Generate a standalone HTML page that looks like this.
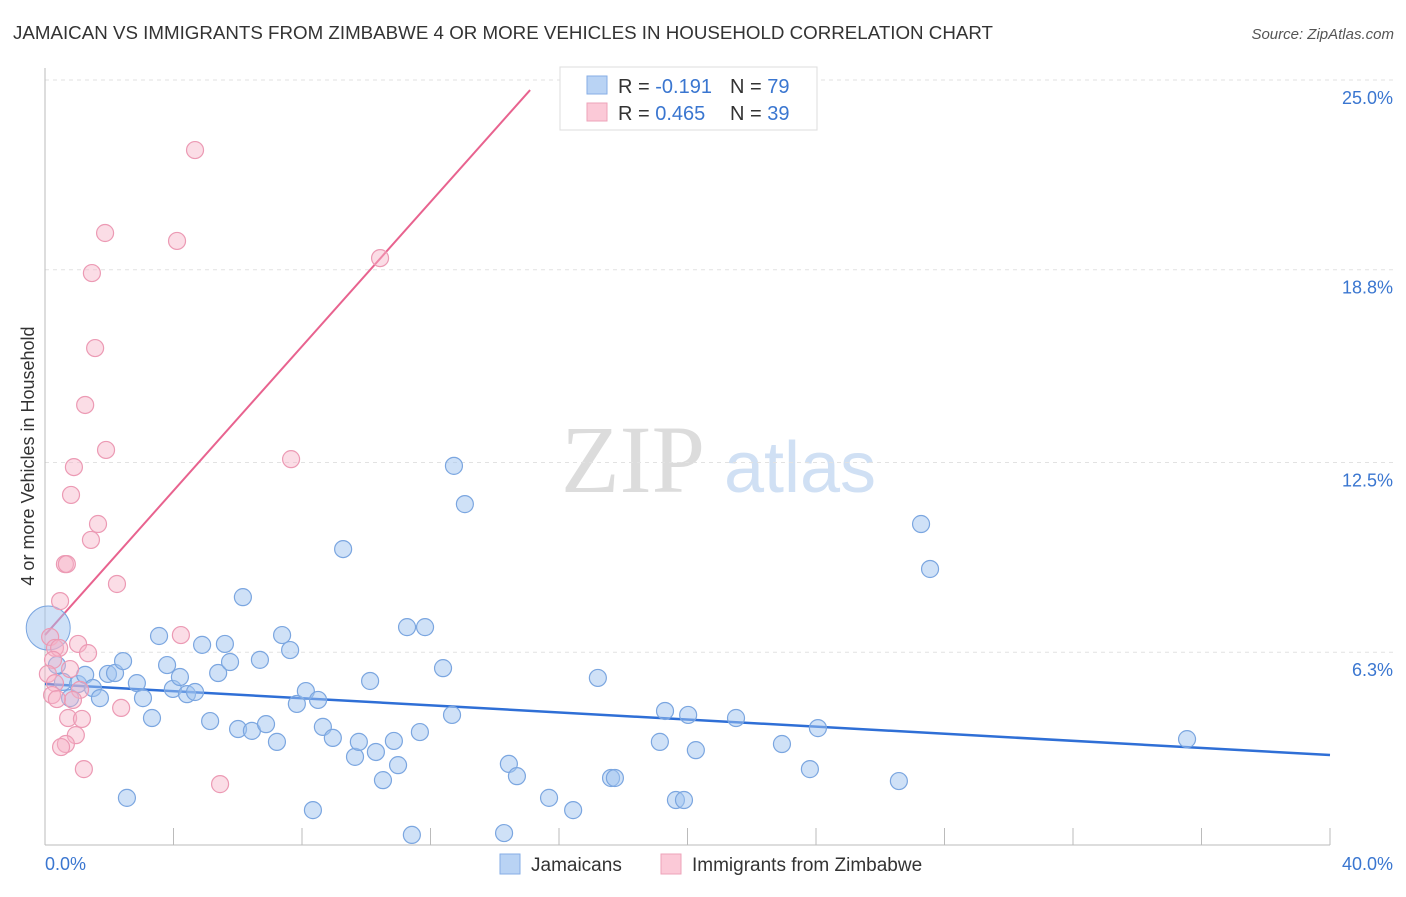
<!DOCTYPE html>
<html><head><meta charset="utf-8"><style>
body{margin:0;background:#fff;font-family:"Liberation Sans",sans-serif;}
svg text{font-family:"Liberation Sans",sans-serif;}
</style></head><body>
<svg id="chart" width="1406" height="892" xmlns="http://www.w3.org/2000/svg">
<text x="13" y="39" font-size="18.5" fill="#333" textLength="980" lengthAdjust="spacingAndGlyphs">JAMAICAN VS IMMIGRANTS FROM ZIMBABWE 4 OR MORE VEHICLES IN HOUSEHOLD CORRELATION CHART</text>
<text x="1394" y="39" font-size="15" fill="#555" font-style="italic" text-anchor="end">Source: ZipAtlas.com</text>
<g>
<text x="633" y="492" font-size="96" fill="#dcdcdc" text-anchor="middle" style="font-family:'Liberation Serif',serif">ZIP</text>
<text x="800" y="492" font-size="72" fill="#d0e0f4" text-anchor="middle">atlas</text>
</g>
<g id="grid"></g>
<g id="axes"></g>
<g id="lines"></g>
<g id="pts"></g>
<text transform="translate(34,456) rotate(-90)" font-size="18" fill="#333" text-anchor="middle">4 or more Vehicles in Household</text>
<g>
<rect x="560" y="67" width="257" height="63" fill="#fff" stroke="#ddd"/>
<rect x="587" y="76" width="20" height="18" fill="#b9d3f4" stroke="#86aee6"/>
<rect x="587" y="103" width="20" height="18" fill="#fbc9d7" stroke="#eea3ba"/>
<text x="618" y="93" font-size="20" fill="#333">R = <tspan fill="#3a76d0">-0.191</tspan></text>
<text x="730" y="93" font-size="20" fill="#333">N = <tspan fill="#3a76d0">79</tspan></text>
<text x="618" y="120" font-size="20" fill="#333">R = <tspan fill="#3a76d0">0.465</tspan></text>
<text x="730" y="120" font-size="20" fill="#333">N = <tspan fill="#3a76d0">39</tspan></text>
</g>
<g>
<rect x="500" y="854" width="20" height="20" fill="#b9d3f4" stroke="#86aee6"/>
<text x="531" y="871" font-size="19" fill="#333">Jamaicans</text>
<rect x="661" y="854" width="20" height="20" fill="#fbc9d7" stroke="#eea3ba"/>
<text x="692" y="871" font-size="19" fill="#333">Immigrants from Zimbabwe</text>
</g>
</svg>
<script>
const blueX=[0.37,0.56,0.78,1.03,1.25,1.49,1.71,1.96,2.18,2.43,2.55,2.86,3.05,3.33,3.55,3.80,3.98,4.20,4.42,4.67,4.89,5.14,5.39,5.60,5.76,6.01,6.16,6.44,6.69,6.88,7.22,7.38,7.63,7.84,8.12,8.34,8.50,8.65,8.96,9.28,9.65,9.77,10.12,10.30,10.52,10.86,10.99,11.27,11.42,11.67,11.83,12.39,12.67,12.73,13.07,14.29,14.44,14.69,15.69,16.44,17.21,17.62,17.74,19.14,19.30,19.64,19.89,20.02,20.26,21.51,22.94,23.81,24.06,26.58,27.27,27.55,35.55];
const blueY=[5.88,5.33,4.80,5.26,5.56,5.13,4.80,5.59,5.62,6.01,1.54,5.29,4.80,4.15,6.83,5.88,5.10,5.49,4.93,5.00,6.54,4.05,5.62,6.57,5.98,3.79,8.10,3.73,6.05,3.95,3.37,6.86,6.37,4.61,5.03,1.14,4.74,3.86,3.50,9.67,2.88,3.37,5.36,3.04,2.12,3.40,2.61,7.12,0.33,3.69,7.12,5.78,4.25,12.39,11.14,0.39,2.65,2.25,1.54,1.14,5.46,2.19,2.19,3.37,4.38,1.47,1.47,4.25,3.10,4.15,3.30,2.48,3.82,2.09,10.49,9.02,3.46];
const pinkX=[4.67,1.87,4.11,1.46,10.43,1.56,1.25,1.90,7.66,0.90,0.81,1.65,1.43,0.62,0.68,2.24,0.47,4.23,1.03,0.16,0.31,0.44,1.34,0.25,0.78,0.09,0.31,1.09,0.22,0.87,0.37,2.37,0.72,1.15,0.96,0.65,0.50,1.21,5.45];
const pinkY=[22.71,20.00,19.74,18.69,19.18,16.24,14.38,12.91,12.61,12.35,11.44,10.49,9.97,9.18,9.18,8.53,7.97,6.86,6.57,6.80,6.44,6.44,6.27,6.05,5.75,5.59,5.29,5.07,4.90,4.74,4.77,4.48,4.15,4.12,3.59,3.30,3.20,2.48,1.99];
const yTicks=[6.3,12.5,18.8,25.0];
const yTickLabels=["6.3%","12.5%","18.8%","25.0%"];
const xTickLabels=["0.0%","40.0%"];
const blueTrend=[5.26,2.94];
const pinkTrend=[6.86,24.67];
const pinkTrendEndX=15.1;
const bigPoint=[0.1,7.09];

const sx=v=>45+v*32.125, sy=v=>845-v*30.6;
const NS="http://www.w3.org/2000/svg";
function mk(t,a,p){const e=document.createElementNS(NS,t);for(const k in a)e.setAttribute(k,a[k]);p.appendChild(e);return e;}
const grid=document.getElementById('grid'),axes=document.getElementById('axes'),lines=document.getElementById('lines'),pts=document.getElementById('pts');
yTicks.forEach((v,i)=>{
 const l=mk('line',{x1:45,x2:1395,y1:sy(v),y2:sy(v),stroke:'#e2e2e2','stroke-dasharray':'4,4'},grid);
 
 
 const t=mk('text',{x:1393,y:sy(v)+24,'font-size':18,fill:'#3a76d0','text-anchor':'end'},axes);
 t.textContent=yTickLabels[i];
 
 
});
mk('line',{x1:45,x2:45,y1:68,y2:845,stroke:'#bbb'},axes);
mk('line',{x1:45,x2:1330,y1:845,y2:845,stroke:'#bbb'},axes);
for(let i=0;i<=10;i++){const l=mk('line',{x1:sx(i*4),x2:sx(i*4),y1:828,y2:845,stroke:'#bbb'},axes);
 
 }
const t0=mk('text',{x:45,y:870,'font-size':18,fill:'#3a76d0'},axes);t0.textContent=xTickLabels[0];


const t1=mk('text',{x:1393,y:870,'font-size':18,fill:'#3a76d0','text-anchor':'end'},axes);t1.textContent=xTickLabels[1];


const bl=mk('line',{x1:sx(0),y1:sy(blueTrend[0]),x2:sx(40),y2:sy(blueTrend[1]),stroke:'#2f6fd6','stroke-width':2.5},lines);


const pl=mk('line',{x1:sx(0),y1:sy(pinkTrend[0]),x2:sx(pinkTrendEndX),y2:sy(pinkTrend[1]),stroke:'#e8638f','stroke-width':2},lines);


const bp=mk('circle',{cx:sx(bigPoint[0]),cy:sy(bigPoint[1]),r:22,fill:'rgba(160,195,240,0.5)',stroke:'#7ba6e0'},pts);


blueX.forEach((x,i)=>{const c=mk('circle',{cx:sx(x),cy:sy(blueY[i]),r:8.5,fill:'rgba(160,195,240,0.5)',stroke:'#7ba6e0','stroke-width':1.2},pts);
 
 });
pinkX.forEach((x,i)=>{const c=mk('circle',{cx:sx(x),cy:sy(pinkY[i]),r:8.5,fill:'rgba(246,180,200,0.45)',stroke:'#ec9ab4','stroke-width':1.2},pts);
 
 });
</script>
</body></html>
